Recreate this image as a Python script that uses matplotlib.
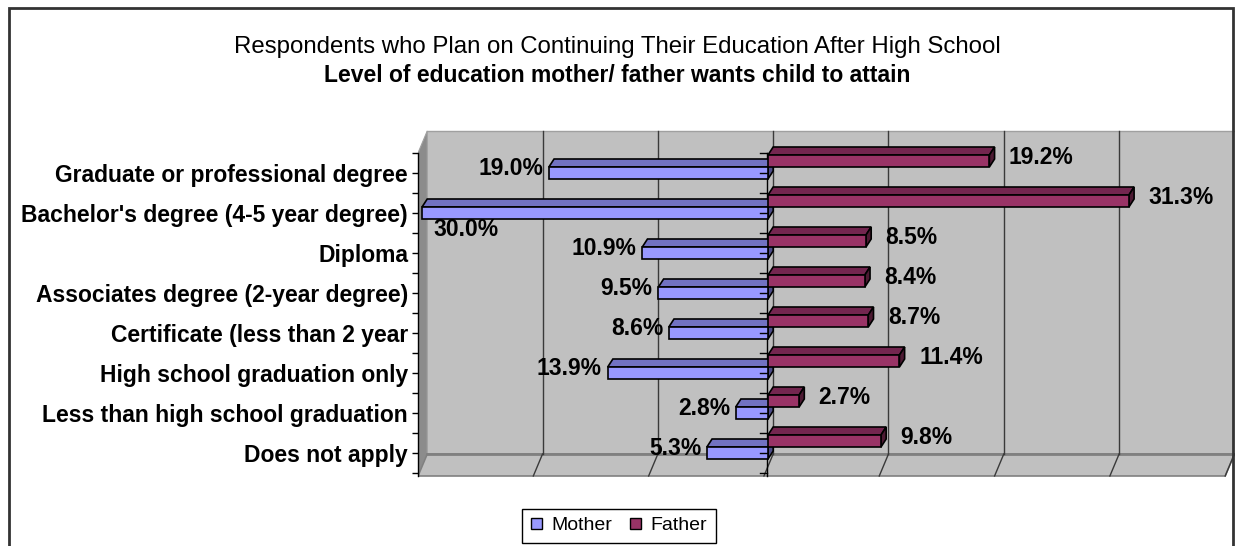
import numpy as np
import matplotlib
matplotlib.use("Agg")
import matplotlib.pyplot as plt
from matplotlib.patches import Polygon, Rectangle, Patch

# Données du graphique
categories = [
    "Graduate or professional degree",
    "Bachelor's degree (4-5 year degree)",
    "Diploma",
    "Associates degree (2-year degree)",
    "Certificate (less than 2 year",
    "High school graduation only",
    "Less than high school graduation",
    "Does not apply",
]
mother = [19.0, 30.0, 10.9, 9.5, 8.6, 13.9, 2.8, 5.3]
father = [19.2, 31.3, 8.5, 8.4, 8.7, 11.4, 2.7, 9.8]
series_names = ["Mother", "Father"]

title_1 = "Respondents who Plan on Continuing Their Education After High School"
title_2 = "Level of education mother/ father wants child to attain"

plt.rcParams['font.family'] = ['Liberation Sans', 'DejaVu Sans']

# Couleurs (palette Excel classique)
mother_front, mother_top, mother_side = '#9999FF', '#7272C2', '#4C4C88'
father_front, father_top, father_side = '#993366', '#73264F', '#4D1A33'
wall, left_wall, wall_edge = '#C0C0C0', '#8C8C8C', '#808080'

# Effet 3D : décalage de la profondeur (x en %, y en unités de catégorie)
BAR_DX, BAR_DY = 0.45, -0.2
WALL_DX, WALL_DY = 0.8, 0.55
BACK = 0.45
X_MIN, X_MAX = -30, 40
TOP_BACK = -1.05
FLOOR_BACK = 7.025
FLOOR_FRONT = FLOOR_BACK + WALL_DY
BAR_H = 0.3

fig = plt.figure(figsize=(12.35, 5.46), dpi=100)
ax = fig.add_axes([418 / 1235, 1 - 490 / 546, 817 / 1235, 370 / 546])
ax.set_xlim(-30.35, 40.5)
ax.set_ylim(7.925, -1.325)
ax.patch.set_visible(False)

# Murs et sol
ax.add_patch(Rectangle((X_MIN + BACK, TOP_BACK), X_MAX - X_MIN, FLOOR_BACK - TOP_BACK,
                       facecolor=wall, edgecolor='none', zorder=0))
ax.plot([X_MIN + BACK, X_MAX + BACK], [TOP_BACK, TOP_BACK], color='#A0A0A0', lw=1, zorder=0.5)
ax.add_patch(Polygon([(X_MIN + BACK, TOP_BACK), (X_MIN + BACK, FLOOR_BACK),
                      (X_MIN + BACK - WALL_DX, FLOOR_FRONT), (X_MIN + BACK - WALL_DX, TOP_BACK + WALL_DY)],
                     closed=True, facecolor=left_wall, edgecolor='#A0A0A0', lw=0.8, zorder=0.6))
ax.add_patch(Polygon([(X_MIN + BACK, FLOOR_BACK), (X_MAX + BACK, FLOOR_BACK),
                      (X_MAX + BACK - WALL_DX, FLOOR_FRONT), (X_MIN + BACK - WALL_DX, FLOOR_FRONT)],
                     closed=True, facecolor=wall, edgecolor=wall_edge, lw=1.2, zorder=0.6))
ax.plot([X_MIN + BACK, X_MAX + BACK], [FLOOR_BACK, FLOOR_BACK], color=wall_edge, lw=2, zorder=0.7)

# Quadrillage du mur du fond et du sol
for g in range(X_MIN + 10, X_MAX, 10):
    ax.plot([g + BACK, g + BACK], [TOP_BACK, FLOOR_BACK], color='#3A3A3A', lw=1, zorder=1)
for g in range(X_MIN + 10, X_MAX + 1, 10):
    ax.plot([g + BACK, g + BACK - WALL_DX], [FLOOR_BACK, FLOOR_FRONT], color='#3A3A3A', lw=1, zorder=1)

# Axe vertical au zéro
ax.plot([-0.1, -0.1], [TOP_BACK + WALL_DY, FLOOR_FRONT], color='black', lw=1, zorder=2)
for t in np.arange(-0.5, 7.6, 0.5):
    ax.plot([-0.65, -0.1], [t, t], color='black', lw=1, zorder=6)

y = np.arange(len(categories))

# Barres Mère (vers la gauche) et Père (vers la droite)
ax.barh(y, [-v for v in mother], height=BAR_H, left=0, color=mother_front,
        edgecolor='black', lw=1.2, zorder=3.2)
ax.barh(y - BAR_H, father, height=BAR_H, left=0, color=father_front,
        edgecolor='black', lw=1.2, zorder=4.2)

for i, (m, f) in enumerate(zip(mother, father)):
    top = i - BAR_H / 2
    bot = i + BAR_H / 2
    ax.add_patch(Polygon([(-m, top), (0, top), (BAR_DX, top + BAR_DY), (-m + BAR_DX, top + BAR_DY)],
                         facecolor=mother_top, edgecolor='black', lw=1.2, zorder=3.1))
    ax.add_patch(Polygon([(0, top), (0, bot), (BAR_DX, bot + BAR_DY), (BAR_DX, top + BAR_DY)],
                         facecolor=mother_side, edgecolor='black', lw=1.2, zorder=3.1))
    ftop = top - BAR_H
    fbot = top
    ax.add_patch(Polygon([(0, ftop), (f, ftop), (f + BAR_DX, ftop + BAR_DY), (BAR_DX, ftop + BAR_DY)],
                         facecolor=father_top, edgecolor='black', lw=1.2, zorder=4.1))
    ax.add_patch(Polygon([(f, ftop), (f, fbot), (f + BAR_DX, fbot + BAR_DY), (f + BAR_DX, ftop + BAR_DY)],
                         facecolor=father_side, edgecolor='black', lw=1.2, zorder=4.1))

    # Étiquettes de valeurs
    if m >= 25:
        ax.text(-m + 0.95, i + 0.4, f"{m:.1f}%", ha='left', va='center',
                fontsize=16.5, fontweight='bold', zorder=7)
    else:
        ax.text(-m - 0.5, i - 0.11, f"{m:.1f}%", ha='right', va='center',
                fontsize=16.5, fontweight='bold', zorder=7)
    ax.text(f + 1.7, i - BAR_H - 0.09, f"{f:.1f}%", ha='left', va='center',
            fontsize=16.5, fontweight='bold', zorder=7)

# Axe des catégories (bord avant du mur gauche)
for side in ['top', 'right', 'bottom']:
    ax.spines[side].set_visible(False)
ax.spines['left'].set_bounds(TOP_BACK + WALL_DY, FLOOR_FRONT)
ax.spines['left'].set_linewidth(1)
ax.spines['left'].set_zorder(5)
ax.set_xticks([])
ax.set_yticks(y)
ax.set_yticklabels(categories, fontsize=16.5, fontweight='bold')
ax.set_yticks(np.arange(-0.5, 7.6, 1), minor=True)
ax.tick_params(axis='y', which='both', direction='out', length=4.3, width=1, pad=2.9)

# Titres
fig.text(0.5, 1 - 47 / 546, title_1, ha='center', va='center', fontsize=17.3)
fig.text(0.5, 1 - 75 / 546, title_2, ha='center', va='center', fontsize=16.5, fontweight='bold')

# Légende
handles = [Patch(facecolor=mother_front, edgecolor='black', label=series_names[0]),
           Patch(facecolor=father_front, edgecolor='black', label=series_names[1])]
leg = fig.legend(handles=handles, loc='center', bbox_to_anchor=(619 / 1235, 1 - 526 / 546),
                 ncol=2, frameon=True, fancybox=False, edgecolor='black', framealpha=1,
                 fontsize=14, handlelength=0.55, handleheight=0.55, handletextpad=0.5,
                 columnspacing=0.9, borderpad=0.45)
leg.get_frame().set_linewidth(1)

# Cadre de la zone de graphique
fig.patches.append(Rectangle((8.5 / 1235, -0.1), (1233 - 8.5) / 1235, 1.1 - 8 / 546,
                             transform=fig.transFigure, fill=False, edgecolor='#333333', lw=2))

fig.savefig('out.png', dpi=100)
